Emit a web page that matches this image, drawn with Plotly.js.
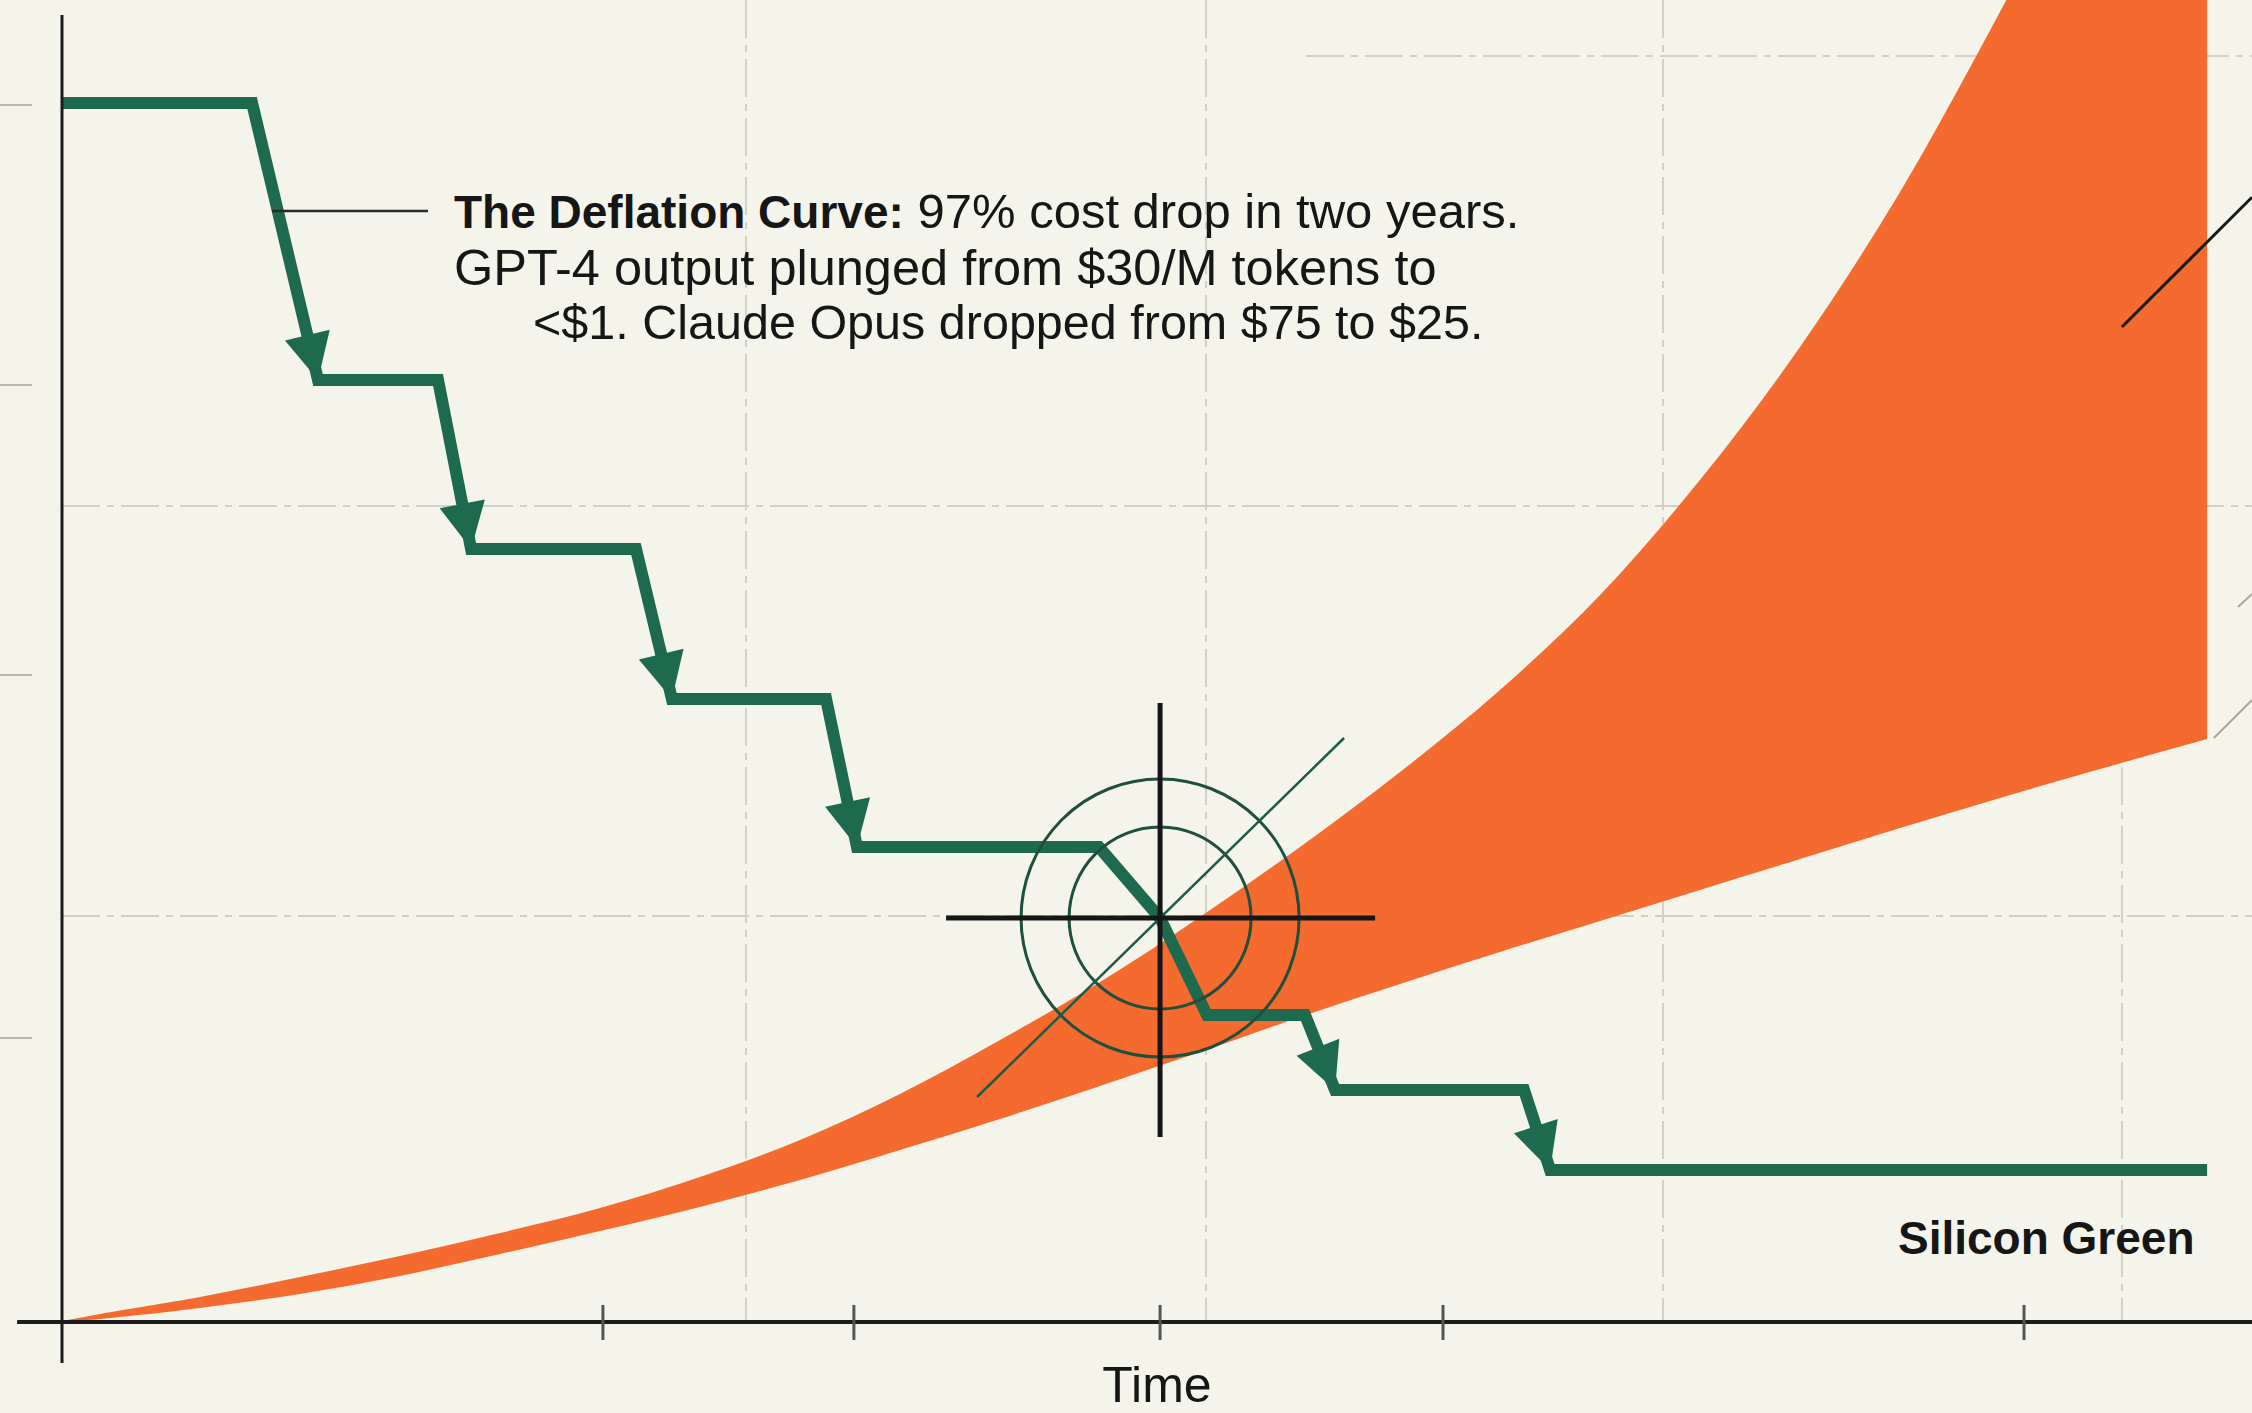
<!DOCTYPE html>
<html>
<head>
<meta charset="utf-8">
<script src="https://cdn.plot.ly/plotly-3.0.1.min.js"></script>
<style>
  html, body { margin: 0; padding: 0; background: #F5F4EA; }
  #chart { width: 2252px; height: 1413px; }
</style>
</head>
<body>
<div id="chart"></div>
<script>
// ---------------- DATA (index units 0-100) ----------------
// Silicon Green: stepped price per token over time
const costTime  = [0, 8.68, 11.69, 17.17, 18.68, 26.21, 27.85, 34.89, 36.30, 47.35, 50.14, 52.28, 56.76, 58.13, 66.76, 67.95, 97.95];
const costLevel = [92.2, 92.2, 71.26, 71.26, 58.47, 58.47, 47.13, 47.13, 35.93, 35.93, 30.56, 23.22, 23.22, 17.55, 17.55, 11.50, 11.50];
// 1 = the step ends a price cut (drawn with an arrowhead)
const priceCut  = [0, 0, 1, 0, 1, 0, 1, 0, 1, 0, 0, 0, 0, 1, 0, 1, 0];
// index of the crossover point (crosshair)
const crossIndex = 10;

// Orange usage band: upper and lower edges (upper runs off the top of the chart)
const bandUpperTime  = [0, 1.74, 6.30, 10.87, 15.43, 20.0, 24.57, 29.13, 33.70, 38.26, 42.83, 47.40, 51.96, 56.53, 61.10, 65.66, 70.23, 74.79, 79.36, 83.93, 88.49, 90.78, 97.95];
const bandUpperValue = [0.08, 0.61, 1.89, 3.40, 4.99, 6.73, 8.62, 10.97, 13.77, 17.25, 21.33, 25.72, 30.64, 35.93, 41.60, 47.81, 54.99, 63.69, 73.75, 85.48, 99.09, 106.28, 130];
const bandLowerTime  = [0, 1.74, 6.30, 10.87, 15.43, 20.0, 24.57, 29.13, 33.70, 38.26, 42.83, 47.40, 51.96, 56.53, 61.10, 65.66, 70.23, 74.79, 79.36, 83.93, 88.49, 93.06, 97.95];
const bandLowerValue = [0, 0.23, 1.06, 2.12, 3.48, 5.14, 6.88, 8.70, 10.74, 13.01, 15.36, 17.85, 20.42, 23.07, 25.57, 27.99, 30.33, 32.68, 35.02, 37.37, 39.64, 41.83, 44.10];

// Axis furniture
const xTickVals = [24.7, 36.16, 50.14, 63.06, 89.59];
const xGridVals = [31.23, 52.24, 73.1, 94.06];
const yGridVals = [30.71, 61.72];
const yTopGrid  = {from: 56.8, value: 95.76};
const yTickVals = [92.06, 70.88, 48.94, 21.48];

// Texts
const noteLines = [
  '<b><span style="font-size:46px">The Deflation Curve:</span></b> 97% cost drop in two years.',
  'GPT-4 output plunged from $30/M tokens to',
  '&lt;$1. Claude Opus dropped from $75 to $25.'
];
const seriesLabel = 'Silicon Green';
const xTitle = 'Time';

// ---------------- STYLE ----------------
const BG = '#F5F4EA';
const GREEN = '#1E6A4E';
const ORANGE = '#F56A2E';
const INK = '#161616';
const GRID = '#D2D1C7';
const FONT = '"Liberation Sans", Arial, Helvetica, sans-serif';
const ARROW = 46;

const crossX = costTime[crossIndex];
const crossY = costLevel[crossIndex];

const traces = [
  {
    x: bandLowerTime, y: bandLowerValue, mode: 'lines', type: 'scatter',
    line: {color: 'rgba(0,0,0,0)', width: 0, shape: 'spline', smoothing: 1},
    hoverinfo: 'skip', showlegend: false
  },
  {
    x: bandUpperTime, y: bandUpperValue, mode: 'lines', type: 'scatter',
    fill: 'tonexty', fillcolor: ORANGE,
    line: {color: 'rgba(0,0,0,0)', width: 0, shape: 'spline', smoothing: 1},
    hoverinfo: 'skip', showlegend: false
  },
  {
    x: costTime, y: costLevel, mode: 'lines+markers', type: 'scatter', name: seriesLabel,
    line: {color: GREEN, width: 12, backoff: 0},
    marker: {
      symbol: 'arrow-up', angleref: 'previous', color: GREEN,
      size: priceCut.map(c => c ? ARROW : 0),
      opacity: priceCut.map(c => c ? 1 : 0),
      line: {width: 0}
    },
    showlegend: false
  }
];

const dashGrid = '38px,7px,7px,7px';

const shapes = [];
// partial top gridline
shapes.push({type: 'line', layer: 'below', xref: 'x', yref: 'y', x0: yTopGrid.from, x1: 100, y0: yTopGrid.value, y1: yTopGrid.value,
  line: {color: GRID, width: 2, dash: dashGrid}});
// axis lines (extend past the origin)
shapes.push({type: 'line', xref: 'paper', yref: 'paper', x0: 0, x1: 0, y0: -0.031, y1: 0.9887, line: {color: '#1c1c1c', width: 3}});
shapes.push({type: 'line', xref: 'paper', yref: 'paper', x0: -0.0205, x1: 1, y0: 0, y1: 0, line: {color: '#1c1c1c', width: 4}});
// x tick marks crossing the axis
xTickVals.forEach(v => shapes.push({type: 'line', xref: 'x', yref: 'paper', x0: v, x1: v, y0: -0.0136, y1: 0.0129,
  line: {color: '#555', width: 3}}));
// faint y tick marks on the far left
yTickVals.forEach(v => shapes.push({type: 'line', xref: 'paper', yref: 'y', x0: -0.0283, x1: -0.0137, y0: v, y1: v,
  line: {color: '#B9B8B0', width: 2}}));
// annotation leader
shapes.push({type: 'line', xref: 'x', yref: 'y', x0: 9.59, x1: 16.71, y0: 84.04, y1: 84.04, line: {color: '#2a2a2a', width: 2.5}});
// right-side leader lines
shapes.push({type: 'line', xref: 'x', yref: 'y', x0: 94.06, y0: 75.26, x1: 100, y1: 85.08, line: {color: '#1a1a1a', width: 3}});
shapes.push({type: 'line', xref: 'x', yref: 'y', x0: 98.26, y0: 44.18, x1: 100, y1: 47.05, line: {color: '#A8A8A0', width: 2}});
shapes.push({type: 'line', xref: 'x', yref: 'y', x0: 99.36, y0: 54.08, x1: 100, y1: 55.07, line: {color: '#A8A8A0', width: 2}});
// crosshair at the crossover
const px = {xref: 'x', yref: 'y', xsizemode: 'pixel', ysizemode: 'pixel', xanchor: crossX, yanchor: crossY};
shapes.push(Object.assign({type: 'circle', x0: -139, x1: 139, y0: -139, y1: 139, line: {color: '#1F4F3D', width: 3}}, px));
shapes.push(Object.assign({type: 'circle', x0: -91, x1: 91, y0: -91, y1: 91, line: {color: '#1F4F3D', width: 3}}, px));
shapes.push(Object.assign({type: 'line', x0: -183, y0: -179, x1: 184, y1: 180, line: {color: '#1F5A45', width: 2.5}}, px));
shapes.push(Object.assign({type: 'line', x0: -214, y0: 0, x1: 215, y1: 0, line: {color: INK, width: 5}}, px));
shapes.push(Object.assign({type: 'line', x0: 0, y0: -219, x1: 0, y1: 215, line: {color: INK, width: 5}}, px));

const annotations = [
  {text: noteLines[0], x: 17.81, y: 84.04, size: 49},
  {text: noteLines[1], x: 17.81, y: 79.80, size: 50.5},
  {text: noteLines[2], x: 21.42, y: 75.64, size: 48.5}
].map(a => {
  const s = a.size; delete a.size;
  return Object.assign(a, {xref: 'x', yref: 'y', xanchor: 'left', yanchor: 'middle', showarrow: false,
    font: {family: FONT, size: s, color: INK}});
});
annotations.push({text: '<b>' + seriesLabel + '</b>', x: 97.49, y: 6.35, xref: 'x', yref: 'y', xanchor: 'right', yanchor: 'middle',
  showarrow: false, font: {family: FONT, size: 46, color: INK}});

const layout = {
  width: 2252, height: 1413,
  margin: {l: 62, r: 0, t: 0, b: 91, pad: 0},
  paper_bgcolor: BG, plot_bgcolor: BG,
  font: {family: FONT, color: INK},
  showlegend: false,
  xaxis: {
    range: [0, 100], tickvals: xGridVals, ticks: '', showticklabels: false, zeroline: false, showline: false,
    showgrid: true, gridcolor: GRID, gridwidth: 2, griddash: dashGrid, fixedrange: true,
    title: {text: xTitle, font: {family: FONT, size: 50, color: INK}, standoff: 50}, automargin: false
  },
  yaxis: {range: [0, 100], tickvals: yGridVals, ticks: '', showticklabels: false, showgrid: true,
    gridcolor: GRID, gridwidth: 2, griddash: dashGrid, zeroline: false, showline: false, fixedrange: true},
  shapes: shapes,
  annotations: annotations
};

Plotly.newPlot('chart', traces, layout, {displayModeBar: false, staticPlot: true});
</script>
</body>
</html>
